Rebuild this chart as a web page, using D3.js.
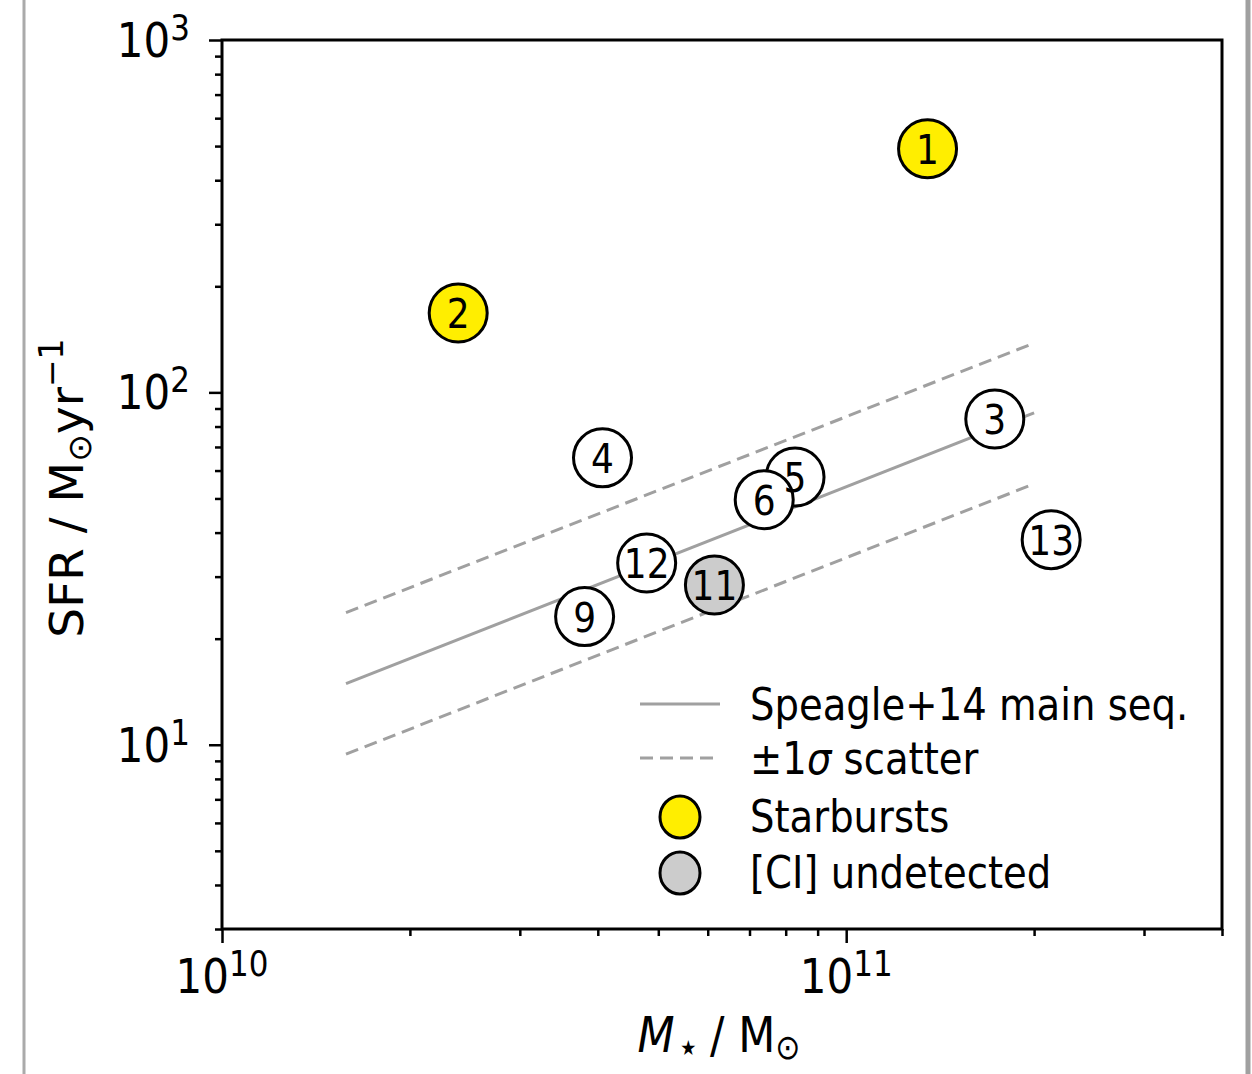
<!DOCTYPE html>
<html><head><meta charset="utf-8">
<script src="https://cdn.jsdelivr.net/npm/d3@7"></script>
<style>
html,body{margin:0;padding:0;background:#fff;}
svg{display:block;font-family:"DejaVu Sans",sans-serif;}
</style></head>
<body>
<svg id="chart" width="1252" height="1074"></svg>
<script>
// ---- data ----
const ids   = ["1","2","3","4","5","6","9","11","12","13"];
const mass  = [1.35e11, 2.39e10, 1.73e11, 4.07e10, 8.28e10, 7.39e10, 3.81e10, 6.15e10, 4.79e10, 2.13e11];
const sfr   = [491, 168, 84, 65.2, 57.5, 49.6, 23.1, 28.4, 32.8, 38.2];
const kind  = ["starburst","starburst","normal","normal","normal","normal","normal","undetected","normal","normal"];
const msMass  = [1.58e10, 2.0e11];
const msSFR   = [14.9, 87.5];
const msUpper = [23.7, 138];
const msLower = [9.4, 55.0];
const xTickExp = [10, 11];
const yTickExp = [1, 2, 3];
const legendLabels = ["Speagle+14 main seq.", "\u00b11", "Starbursts", "[CI] undetected"];

const fillFor = {starburst:"#ffee00", undetected:"#cccccc", normal:"#ffffff"};
const VS = 1.15; // vertical glyph stretch seen in the reference

const svg = d3.select("#chart");
const L=222, R=1222, T=40, B=929;
const x = d3.scaleLog().domain([1e10, 4e11]).range([L, R]);
const y = d3.scaleLog().domain([3, 1000]).range([B, T]);

function stext(parent, xx, yy, size, anchor, vs){
  return parent.append("g").attr("transform",`translate(${xx},${yy}) scale(1,${vs||VS})`)
    .append("text").attr("x",0).attr("y",0).attr("text-anchor",anchor||"start").attr("font-size",size).attr("fill","#000");
}

// page borders
svg.append("line").attr("x1",24).attr("x2",24).attr("y1",0).attr("y2",1074).attr("stroke","#aaaaaa").attr("stroke-width",3);
svg.append("line").attr("x1",1248).attr("x2",1248).attr("y1",0).attr("y2",1074).attr("stroke","#a0a0a0").attr("stroke-width",5);

// main sequence lines
const line = d3.line().x(d=>x(d[0])).y(d=>y(d[1]));
const gray = "#a0a0a0";
svg.append("path").attr("d", line(d3.zip(msMass, msSFR))).attr("fill","none").attr("stroke",gray).attr("stroke-width",3);
[msUpper, msLower].forEach(arr=>{
  svg.append("path").attr("d", line(d3.zip(msMass, arr))).attr("fill","none").attr("stroke",gray).attr("stroke-width",3).attr("stroke-dasharray","13,7");
});

// points
const pts = ids.map((id,i)=>({id, m:mass[i], s:sfr[i], k:kind[i]}));
svg.append("g").selectAll("circle").data(pts).join("circle")
  .attr("cx",d=>x(d.m)).attr("cy",d=>y(d.s)).attr("r",29)
  .attr("fill",d=>fillFor[d.k]).attr("stroke","#000").attr("stroke-width",3);
pts.forEach(d=>{
  stext(svg, x(d.m), y(d.s)+15, 36, "middle", 1.15).text(d.id);
});

// axes
const yAxis = d3.axisLeft(y).tickValues(d3.range(3,10).concat(d3.range(10,100,10), d3.range(100,1001,100)))
  .tickSize(7).tickFormat("");
const gy = svg.append("g").attr("transform",`translate(${L},0)`).call(yAxis);
gy.selectAll(".tick line").filter(d=>yTickExp.some(e=>Math.abs(d-Math.pow(10,e))<1e-6)).attr("x2",-13);
const xVals = d3.range(1,10).map(v=>v*1e10).concat(d3.range(1,5).map(v=>v*1e11));
const xAxis = d3.axisBottom(x).tickValues(xVals).tickSize(7).tickFormat("");
const gx = svg.append("g").attr("transform",`translate(0,${B})`).call(xAxis);
gx.selectAll(".tick line").filter(d=>xTickExp.some(e=>Math.abs(d/Math.pow(10,e)-1)<1e-9)).attr("y2",14);
[gx,gy].forEach(g=>{g.select(".domain").remove(); g.selectAll(".tick line").attr("stroke","#000").attr("stroke-width",2.5);});

// frame
svg.append("rect").attr("x",L).attr("y",T).attr("width",R-L).attr("height",B-T)
  .attr("fill","none").attr("stroke","#000").attr("stroke-width",3);

// tick labels
function powLabel(xx, yy, exp, anchor){
  const t = stext(svg, xx, yy, 42, anchor);
  t.append("tspan").text("10");
  t.append("tspan").attr("font-size",31).attr("dy",-15).text(exp);
}
xTickExp.forEach(e=>powLabel(x(Math.pow(10,e)), B+64, e, "middle"));
yTickExp.forEach(e=>powLabel(190, y(Math.pow(10,e))+17, e, "end"));

// axis labels
const xl = stext(svg, 719, 1052, 43, "middle");
xl.append("tspan").attr("font-style","italic").text("M");
xl.append("tspan").attr("font-size",18).attr("dy",3).text(" \u2605");
xl.append("tspan").attr("dy",-3).text(" / M");
xl.append("tspan").attr("font-size",30).attr("dy",6).text("\u2299");

const yl = svg.append("text").attr("transform","translate(83,488) rotate(-90)").attr("text-anchor","middle").attr("font-size",47).attr("fill","#000");
yl.append("tspan").text("SFR / M");
yl.append("tspan").attr("font-size",33).attr("dy",8).text("\u2299");
yl.append("tspan").attr("dy",-8).text("yr");
yl.append("tspan").attr("font-size",33).attr("dy",-20).text("\u22121");

// legend
const lg = svg.append("g");
lg.append("line").attr("x1",640).attr("x2",720).attr("y1",704).attr("y2",704).attr("stroke",gray).attr("stroke-width",3);
lg.append("line").attr("x1",640).attr("x2",720).attr("y1",758).attr("y2",758).attr("stroke",gray).attr("stroke-width",3).attr("stroke-dasharray","13,7");
lg.append("ellipse").attr("cx",680).attr("cy",817).attr("rx",20).attr("ry",21).attr("fill",fillFor.starburst).attr("stroke","#000").attr("stroke-width",3);
lg.append("ellipse").attr("cx",680).attr("cy",873).attr("rx",20).attr("ry",21).attr("fill",fillFor.undetected).attr("stroke","#000").attr("stroke-width",3);
const ly = [720, 774, 832, 888];
legendLabels.forEach((s,i)=>{
  const t = stext(lg, 750, ly[i], 38.6, "start");
  t.append("tspan").text(s);
  if(i===1){
    t.append("tspan").attr("font-style","italic").text("\u03c3");
    t.append("tspan").text(" scatter");
  }
});
</script>
</body></html>
